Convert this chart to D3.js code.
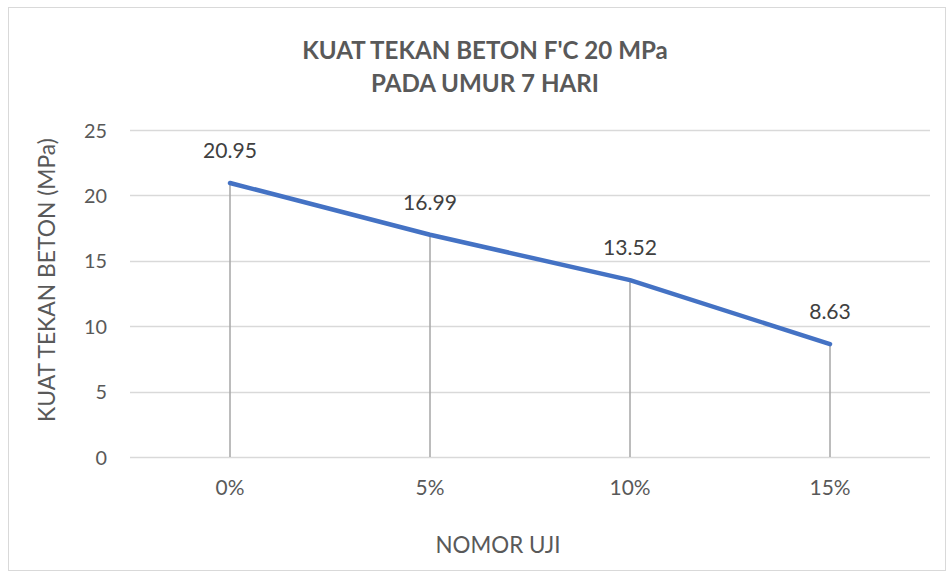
<!DOCTYPE html>
<html><head><meta charset="utf-8">
<script src="https://cdn.jsdelivr.net/npm/d3@7"></script>
<style>body{margin:0;background:#fff}svg{display:block}text{font-family:Lato,"Open Sans",sans-serif}</style>
</head><body><svg id="c" width="949" height="572"></svg>
<script>
const categories = ["0%", "5%", "10%", "15%"];
const values = [20.95, 16.99, 13.52, 8.63];
const yTicks = [0, 5, 10, 15, 20, 25];
const titleLines = ["KUAT TEKAN BETON F'C 20 MPa", "PADA UMUR 7 HARI"];
const yTitle = "KUAT TEKAN BETON (MPa)";
const xTitle = "NOMOR UJI";

(function () {
const svg = d3.select("#c");
// font size so that `sample` renders about `target` px wide
function sizeFor(sample, target, weight) {
  const t = svg.append("text").attr("font-size", 100).attr("font-weight", weight || "normal").text(sample);
  const w = t.node().getComputedTextLength();
  t.remove();
  return 100 * target / w;
}
const fsTick = sizeFor("25", 23);
const fsX = sizeFor("10%", 41);
const fsData = sizeFor("16.99", 54);
const fsTitle = sizeFor(titleLines[0], 366, "bold");
const fsYT = sizeFor(yTitle, 284);
const fsXT = sizeFor(xTitle, 125);

svg.append("rect").attr("x", 8.5).attr("y", 7.5).attr("width", 937).attr("height", 563)
  .attr("fill", "#fff").attr("stroke", "#d9d9d9").attr("stroke-width", 1);

const pL = 130, pR = 930, pT = 130, pB = 457;
const x = d3.scaleBand().domain(categories).range([pL, pR]);
const y = d3.scaleLinear().domain([0, 25]).range([pB, pT]);

svg.append("g").selectAll("line").data(yTicks).join("line")
  .attr("x1", pL).attr("x2", pR).attr("y1", d => Math.round(y(d)) + 0.5).attr("y2", d => Math.round(y(d)) + 0.5)
  .attr("stroke", "#d9d9d9").attr("stroke-width", 1.3);

const yAxis = d3.axisLeft(y).tickValues(yTicks).tickSize(0).tickPadding(0);
const gy = svg.append("g").attr("transform", `translate(${pL - 23},0)`).call(yAxis);
gy.select(".domain").remove();
gy.selectAll("text").attr("font-size", fsTick).attr("fill", "#595959").attr("font-family", "Lato, sans-serif")
  .attr("dy", "0.36em");

const xAxis = d3.axisBottom(x).tickSize(0).tickPadding(0);
const gx = svg.append("g").attr("transform", `translate(0,${pB})`).call(xAxis);
gx.select(".domain").remove();
gx.selectAll("text").attr("font-size", fsX).attr("fill", "#595959").attr("font-family", "Lato, sans-serif")
  .attr("y", 38).attr("dy", 0);

const cx = d => x(d) + x.bandwidth() / 2;

svg.append("g").selectAll("line").data(categories).join("line")
  .attr("x1", d => cx(d)).attr("x2", d => cx(d))
  .attr("y1", (d, i) => y(values[i])).attr("y2", y(0))
  .attr("stroke", "#a6a6a6").attr("stroke-width", 1.5);

const line = d3.line().x((d, i) => cx(categories[i])).y(d => y(d));
svg.append("path").datum(values).attr("d", line)
  .attr("fill", "none").attr("stroke", "#4472c4").attr("stroke-width", 4.5)
  .attr("stroke-linecap", "round").attr("stroke-linejoin", "round");

svg.append("g").selectAll("text").data(values).join("text")
  .attr("x", (d, i) => cx(categories[i])).attr("y", d => y(d) - 25)
  .attr("text-anchor", "middle").attr("font-size", fsData).attr("fill", "#404040")
  .text(d => d.toFixed(2));

svg.append("g").selectAll("text").data(titleLines).join("text")
  .attr("x", 485).attr("y", (d, i) => 59 + i * 32.5)
  .attr("text-anchor", "middle").attr("font-size", fsTitle).attr("font-weight", "bold")
  .attr("fill", "#595959").text(d => d);

svg.append("text").attr("transform", `translate(55,280) rotate(-90)`)
  .attr("text-anchor", "middle").attr("font-size", fsYT).attr("fill", "#595959").text(yTitle);
svg.append("text").attr("x", 498).attr("y", 552.5)
  .attr("text-anchor", "middle").attr("font-size", fsXT).attr("fill", "#595959").text(xTitle);
})();
</script></body></html>
